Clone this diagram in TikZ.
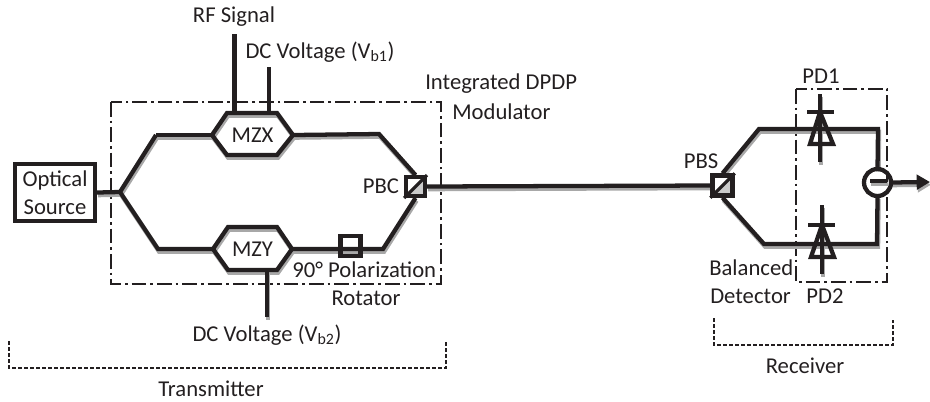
\documentclass[tikz,border=0pt]{standalone}
\usepackage{fontspec}
\setmainfont{Carlito}
\usetikzlibrary {arrows.meta}

\definecolor{inkline}{HTML}{231F20}
\definecolor{shadowline}{HTML}{A8A8A8}

\tikzset{
    wire/.style={line width=3.2pt, draw=inkline},
    shade/.style={line width=3.2pt, draw=shadowline},
    blockbox/.style={draw=inkline, line width=3.2pt, minimum width=#1, minimum height=#1, inner sep=0pt},
    groupbox/.style={draw=inkline, line width=0.8pt, dash pattern=on 11pt off 3pt on 2pt off 3pt},
    bracket/.style={draw=inkline, line width=0.8pt, dash pattern=on 3pt off 1.5pt},
    lbl/.style={text=inkline, font=\fontsize{17}{20}\selectfont, inner sep=0pt},
    hexlabel/.style={lbl, minimum width=#1, minimum height=30pt},
}

% every fibre path, drawn once grey and once black
\newcommand{\fiberpaths}[1]{
    \draw[#1] (source.east) -- (split);
    \draw[#1] (upL) -- (split) -- (lowL) -- (mzy.west);
    \draw[#1] (upL) -- (mzx.west);
    \draw[#1] (mzx.east) -- (upR) -- (pbc.north);
    \draw[#1] (mzy.east) -- (lowR) -- (pbc.south);
    \draw[#1] (pbc.east) -- (pbs.west);
    \draw[#1] (pbs.north) -- (rxup) -- (rxupR) -- (diff.north);
    \draw[#1] (pbs.south) -- (rxlow) -- (rxlowR) -- (diff.south);
    \draw[#1] (212,135) -- (227,113) -- (277,113) -- (293,135) -- (277,155) -- (227,155) -- cycle;
    \draw[#1] (213,249) -- (228,227) -- (277,227) -- (292,249) -- (277,270) -- (228,270) -- cycle;
    \draw[#1] (267,270) -- (dctwoend);
    \draw[#1] (820,94) -- (820,162);
    \draw[#1] (822,205) -- (822,274);
    \draw[#1] (870,181) -- (887,181);
    \draw[#1, -{Stealth[length=10pt, width=11pt, inset=0pt]}] (diff.east) -- (out);
}

\begin{document}
\begin{tikzpicture}[x=0.75pt, y=-0.75pt, line cap=butt]
    \useasboundingbox (0,0) rectangle (930,401);

    % group outlines
    \draw[groupbox] (111,102) rectangle (441,284);
    \draw[groupbox] (796,89) rectangle (887,282);
    \draw[bracket] (9,341) -- (9,368) -- (446,368) -- (446,341);
    \draw[bracket] (714,318) -- (714,345) -- (893,345) -- (893,320);

    % source and hexagon labels
    \node[draw=inkline, line width=3.2pt, minimum width=60pt, minimum height=43pt, inner sep=0pt,
        align=center, text=inkline, font=\fontsize{17}{21}\selectfont] (source) at (55,192.5) {Optical\\Source};
    \node[hexlabel=61pt] (mzx) at (252.5,135) {MZX};
    \node[hexlabel=59pt] (mzy) at (252.5,249) {MZY};

    % junction points
    \coordinate (split) at (120,192);
    \coordinate (upL) at (156,135);
    \coordinate (upR) at (379,134);
    \coordinate (lowL) at (158,249);
    \coordinate (lowR) at (383,249);
    \coordinate (rxup) at (759,129);
    \coordinate (rxupR) at (878,129);
    \coordinate (rxlow) at (764,244);
    \coordinate (rxlowR) at (877,244);
    \coordinate (out) at (930,182);
    \coordinate (rfend) at (234.5,34);
    \coordinate (dconeend) at (269,67);
    \coordinate (dctwoend) at (267,317);

    % square components
    \node[blockbox=14pt] (pbc) at (415.5,186.5) {};
    \node[blockbox=15pt] (rot) at (350.5,246) {};
    \node[blockbox=15pt] (pbs) at (722.5,185.5) {};
    \node[minimum size=20pt, inner sep=0pt] (diff) at (877.5,182.5) {};

    % fibres with their shadow
    \begin{scope}[transform canvas={shift={(0.8pt,-2pt)}}]
        \fiberpaths{shade}
    \end{scope}
    \fiberpaths{wire}

    % control lines
    \draw[wire] (rfend) -- (234.5,113);
    \draw[wire] (dconeend) -- (269,113);

    % squares drawn again above the fibres
    \fill[shadowline!60] (pbc.south west) -- (pbc.north east) -- (pbc.south east) -- cycle;
    \fill[shadowline!60] (pbs.south west) -- (pbs.north east) -- (pbs.south east) -- cycle;
    \draw[inkline, line width=2.4pt] (pbc.south west) -- (pbc.north east);
    \draw[inkline, line width=2.4pt] (pbs.south west) -- (pbs.north east);
    \node[blockbox=14pt] at (pbc) {};
    \node[blockbox=15pt] at (rot) {};
    \node[blockbox=15pt] at (pbs) {};

    % subtractor
    \draw[inkline, line width=3.2pt] (diff) circle (13.5);

    % photodiodes
    \draw[wire] (807,112) -- (834,112);
    \draw[wire, miter limit=10] (820,112) -- (810,144) -- (833,144) -- cycle;
    \draw[wire] (808,225) -- (835,225);
    \draw[wire, miter limit=10] (822,225) -- (811,257) -- (834,257) -- cycle;

    % labels
    \node[lbl] (rflabel) at (234,17) {RF Signal};
    \node[lbl] (dconelabel) at (320,52) {DC Voltage (V\textsubscript{b1})};
    \node[lbl, anchor=west] (modone) at (425,84) {Integrated DPDP};
    \node[lbl, anchor=west] (modtwo) at (452,112) {Modulator};
    \node[lbl] (pbclabel) at (381,186) {PBC};
    \node[lbl, anchor=west] (rotone) at (292,270) {90° Polarization};
    \node[lbl] (rottwo) at (366,298) {Rotator};
    \node[lbl] (dctwolabel) at (267,335) {DC Voltage (V\textsubscript{b2})};
    \node[lbl] (txlabel) at (211,389) {Transmitter};
    \node[lbl] (pbslabel) at (701,161) {PBS};
    \node[lbl] (pdone) at (821,76) {PD1};
    \node[lbl] (pdtwo) at (825,296) {PD2};
    \node[lbl, anchor=west] (balone) at (709,268) {Balanced};
    \node[lbl, anchor=west] (baltwo) at (710,296) {Detector};
    \node[lbl] (rxlabel) at (805,366) {Receiver};
\end{tikzpicture}
\end{document}
